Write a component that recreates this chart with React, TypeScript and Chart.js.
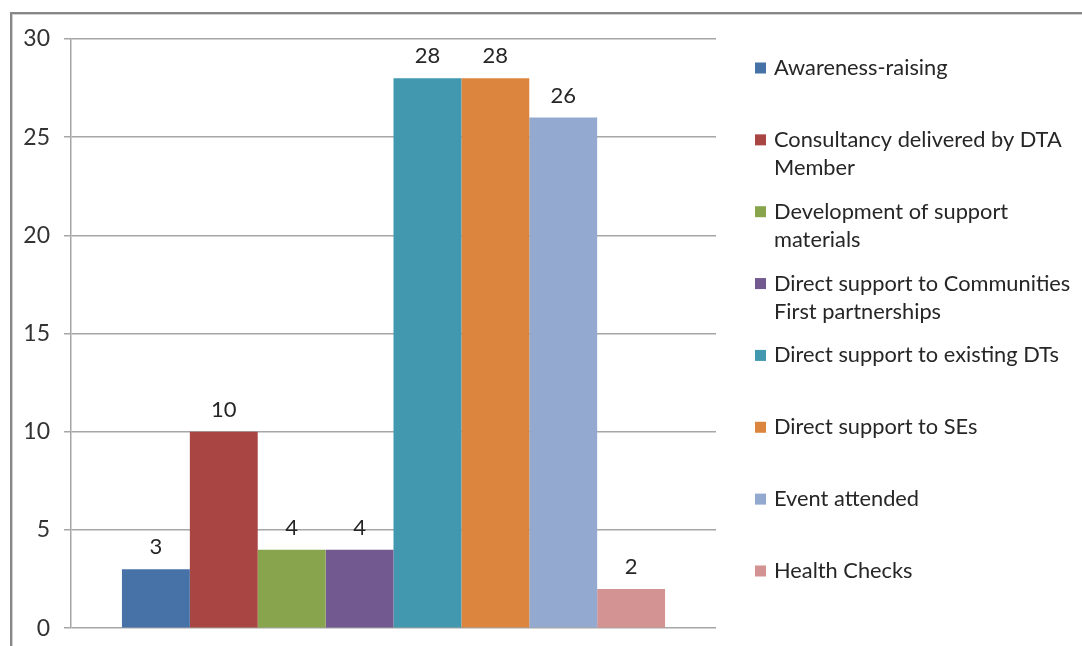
import React, { useEffect, useRef } from "react";
import { Chart, registerables } from "chart.js";

Chart.register(...registerables);

const categories = [""];
const seriesLabels = [
  "Awareness-raising",
  "Consultancy delivered by DTA\nMember",
  "Development of support\nmaterials",
  "Direct support to Communities\nFirst partnerships",
  "Direct support to existing DTs",
  "Direct support to SEs",
  "Event attended",
  "Health Checks",
];
const seriesValues = [3, 10, 4, 4, 28, 28, 26, 2];
const seriesColors = [
  "#4672A8",
  "#A94543",
  "#88A54D",
  "#725990",
  "#4198AF",
  "#DC853E",
  "#93A9D0",
  "#D29392",
];
const yTicks = { min: 0, max: 30, step: 5 };

const FONT = "Lato, 'Open Sans', sans-serif";

const valueLabelPlugin = {
  id: "valueLabels",
  afterDatasetsDraw(chart: any) {
    const ctx = chart.ctx;
    ctx.save();
    ctx.font = `22px ${FONT}`;
    ctx.fillStyle = "#262626";
    ctx.textAlign = "center";
    ctx.textBaseline = "middle";
    chart.data.datasets.forEach((ds: any, i: number) => {
      const meta = chart.getDatasetMeta(i);
      meta.data.forEach((bar: any, j: number) => {
        ctx.fillText(String(ds.data[j]), bar.x, bar.y - 22);
      });
    });
    ctx.restore();
  },
};

const sideLegendPlugin = {
  id: "sideLegend",
  afterDraw(chart: any) {
    const ctx = chart.ctx;
    const area = chart.chartArea;
    const step = area.height / 8.2;
    const boxX = area.right + 39;
    const textX = area.right + 58;
    ctx.save();
    ctx.font = `21.8px ${FONT}`;
    ctx.textBaseline = "middle";
    ctx.textAlign = "left";
    chart.data.datasets.forEach((ds: any, i: number) => {
      const cy = area.top + 29 + step * i;
      ctx.fillStyle = ds.backgroundColor;
      ctx.fillRect(boxX, cy - 5.5, 11, 11);
      ctx.fillStyle = "#262626";
      const lines = String(ds.label).split("\n");
      lines.forEach((line: string, k: number) => {
        ctx.fillText(line, textX, cy + k * 28);
      });
    });
    ctx.restore();
  },
};

export default function App() {
  const canvasRef = useRef<HTMLCanvasElement | null>(null);

  useEffect(() => {
    if (!canvasRef.current) return;
    const chart = new Chart(canvasRef.current, {
      type: "bar",
      data: {
        labels: categories,
        datasets: seriesLabels.map((label, i) => ({
          label,
          data: [seriesValues[i]],
          backgroundColor: seriesColors[i],
          borderWidth: 0,
          categoryPercentage: 0.842,
          barPercentage: 1,
        })),
      },
      options: {
        animation: false,
        responsive: true,
        maintainAspectRatio: false,
        layout: { padding: { left: 0, top: 39, right: 366, bottom: 8 } },
        plugins: {
          legend: { display: false },
          tooltip: { enabled: false },
        },
        scales: {
          x: { display: false },
          y: {
            min: yTicks.min,
            max: yTicks.max,
            afterFit(scale: any) {
              scale.width = 71;
            },
            ticks: {
              stepSize: yTicks.step,
              padding: 14,
              color: "#333333",
              font: { family: FONT, size: 23 },
            },
            grid: {
              color: "#A6A6A6",
              lineWidth: 1.5,
              tickLength: 7,
            },
            border: { display: true, color: "#A6A6A6", width: 1.5 },
          },
        },
      },
      plugins: [valueLabelPlugin, sideLegendPlugin],
    });
    return () => chart.destroy();
  }, []);

  return (
    <>
      <div style={{ position: "fixed", left: 0, top: 0, width: 1082, height: 656, background: "#fff" }}>
        <canvas ref={canvasRef} />
      </div>
      <div
        style={{
          position: "fixed",
          left: 10,
          top: 12,
          right: 0,
          bottom: 0,
          borderLeft: "2px solid #878787",
          borderTop: "2px solid #878787",
          boxShadow: "inset 1px 1px 0 #D0D0D0",
          pointerEvents: "none",
        }}
      />
    </>
  );
}
